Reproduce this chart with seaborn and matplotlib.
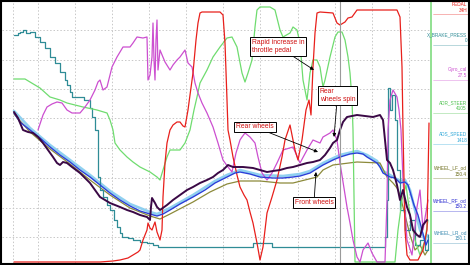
import numpy as np
import pandas as pd
import matplotlib
matplotlib.use("Agg")
import matplotlib.pyplot as plt
import seaborn as sns
from matplotlib.patches import Rectangle

sns.set_theme(style="white")
plt.rcParams['font.family'] = ['Liberation Sans', 'DejaVu Sans']

# ---- data (time in samples, signal level in scale units) ----
pedal_t = [14,60,100,113,120,128,133,138,140,143,147,148,150,152,155,157,160,162,163,165,167,170,173,177,180,183,185,188,190,193,196,198,200,202,210,220,223,225,227,228,230,233,237,240,244,247,250,253,257,260,263,267,272,277,282,285,290,295,298,302,306,309,311,313,315,317,320,333,337,340,345,348,352,357,373,397,400,402,403,405,407,410,418,423,427,428,429]
pedal_v = [1,1,1,2,3,5,8,11,13,23,33,40,35,33,41,31,23,33,66,100,120,133,138,141,141,137,136,153,168,190,223,240,250,251,251,251,248,220,163,133,123,106,88,76,68,63,51,40,20,3,16,50,66,83,106,123,138,113,103,123,153,163,148,196,230,250,251,250,240,238,241,245,246,253,253,253,246,196,133,33,8,3,3,13,33,83,140]

steer_t = [14,25,30,40,50,60,67,83,97,107,110,113,115,120,127,133,140,150,157,160,163,167,170,180,185,190,194,197,200,207,213,220,227,232,237,242,245,248,252,255,257,260,270,275,280,283,290,293,297,300,303,307,310,313,317,320,323,325,330,335,338,342,345,348,350,352,353,355,395,398,402,406,410,415,420,425,428]
steer_v = [184,184,181,175,166,163,160,156,153,150,143,133,120,113,106,101,96,91,86,83,93,106,113,113,120,133,153,166,180,193,206,216,225,226,216,190,181,190,203,236,253,256,256,253,233,226,230,236,233,220,183,163,190,203,203,196,176,183,206,226,231,231,223,206,190,163,133,1,1,33,63,78,48,23,8,23,43]

gyro_t = [38,43,47,52,57,62,67,72,80,85,90,95,98,100,103,107,112,117,123,130,133,137,143,147,148,150,152,153,154,155,156,157,158,160,165,170,173,177,180,185,188,192,195,198,202,207,213,218,223,228,232,236,240,242,245,250,255,258,262,267,272,277,283,293,300,307,313,320,323,330,333,337,340,347,350,353,357,360,363,368,372,377,385,387,388,390,393,397,399,401,403,407,412,417,420,423,428]
gyro_v = [133,148,156,159,161,160,153,150,150,156,163,173,181,183,173,176,196,206,216,216,220,226,225,226,183,188,206,240,203,183,223,243,193,213,201,193,198,203,206,213,200,196,180,170,160,150,136,120,103,96,91,110,123,126,130,126,120,106,90,83,90,100,113,116,100,113,123,120,126,130,133,123,100,56,40,23,6,1,13,20,10,1,1,63,133,163,173,166,153,133,83,23,8,56,73,33,63]

brake_t = [14,18,20,23,26,30,35,40,45,50,55,60,65,67,70,72,76,80,84,87,90,92,95,97,98,100,103,107,110,114,117,120,122,128,133,140,147,153,158,165,200,250,253,270,272,300,330,350,383,385,387,388,390,392,395,397,400,405,410,415,420,425,428]
brake_v = [228,230,231,233,230,231,226,221,215,206,200,191,183,178,171,166,166,166,163,163,155,146,133,133,86,73,66,58,53,43,36,30,26,25,23,21,20,18,16,16,16,16,20,20,16,16,16,16,16,26,63,175,153,168,143,93,53,33,43,18,23,13,28]

rear_t = [14,18,23,28,33,38,43,48,53,57,60,63,67,72,80,85,90,95,100,105,110,115,120,127,133,140,147,150,151,152,155,157,160,167,173,180,187,193,200,207,213,218,223,228,233,243,253,260,267,273,280,287,293,300,307,313,320,325,330,333,337,340,343,347,352,357,365,373,380,383,385,387,390,393,397,400,403,407,410,413,417,420,423,427]
rear_v = [151,145,133,131,130,126,120,113,106,100,98,101,100,96,90,85,80,73,66,63,60,58,56,53,51,48,46,43,56,65,60,56,53,58,63,68,73,76,80,83,86,90,93,98,96,96,95,93,91,92,93,95,96,98,100,101,103,108,115,120,123,133,141,146,147,148,147,146,148,143,123,103,100,93,78,63,73,56,48,33,28,26,38,43]

rf_t = [14,20,30,40,50,60,70,80,90,100,110,120,130,140,150,157,163,170,180,193,205,215,227,235,240,250,260,273,283,293,300,310,323,333,340,350,357,363,367,372,377,380,383,390,395,400,405,408,411,414,418,422,426,428]
rf_v = [150,141,133,125,116,108,101,93,86,78,70,63,57,52,49,47,49,53,59,66,73,80,86,90,91,89,86,85,85,86,87,90,98,103,106,109,110,109,106,103,100,96,90,86,85,80,81,78,68,58,48,33,18,23]

speed_t = [14,30,50,70,90,110,130,150,157,170,193,215,227,240,260,283,300,310,323,340,357,367,377,383,390,400,405,410,415,420,425,428]
speed_v = [152,135,118,103,88,72,59,51,49,55,68,82,88,93,88,87,89,92,100,108,112,108,102,92,88,82,83,73,53,33,23,28]

lf_t = [14,30,50,70,90,110,130,150,160,170,193,210,227,240,260,280,293,305,317,323,333,357,380,387,393,397,400,405,410,415,420,425,428]
lf_v = [149,131,114,99,83,68,55,47,44,49,61,71,79,82,82,80,80,83,86,93,98,101,100,86,80,75,68,48,28,13,18,8,13]

channel_names = ["PEDAL", "X_BRAKE_PRESS", "Gyro_cal", "ADR_STEER", "ADS_SPEED", "WHEEL_LF_od", "WHEEL_RF_od", "WHEEL_LR_od"]
channel_values = ["34H", "0", "27.5", "4105", "1418", "150.4", "150.2", "150.1"]

notes = ["Rapid increase in\nthrottle pedal", "Rear\nwheels spin", "Rear wheels", "Front wheels"]

# ---- figure ----
W, H = 470, 265
fig = plt.figure(figsize=(W/100, H/100), dpi=100)
ax = fig.add_axes([2/W, 2/H, 429/W, 262/H])
ax.set_facecolor("white")

c_red = "#e8201c"
c_green = "#6fdc6f"
c_mag = "#cc4fd0"
c_teal = "#2f8c96"
c_purple = "#3a0845"
c_blue = "#2a3fd8"
c_light = "#8fd0f0"
c_olive = "#8c8a3a"

def draw(t, v, color, lw, **kw):
    df = pd.DataFrame({"t": t, "v": v})
    sns.lineplot(data=df, x="t", y="v", ax=ax, color=color, lw=lw,
                 estimator=None, sort=False, **kw)

draw(speed_t, speed_v, c_light, 1.9)
draw(lf_t, lf_v, c_olive, 0.9)
draw(brake_t, brake_v, c_teal, 0.9, drawstyle="steps-post")
draw(steer_t, steer_v, c_green, 0.9)
draw(gyro_t, gyro_v, c_mag, 0.9)
draw(pedal_t, pedal_v, c_red, 0.9)
draw(rf_t, rf_v, c_blue, 1.0)
draw(rear_t, rear_v, c_purple, 1.4)

ax.set_xlim(2, 431)
ax.set_ylim(0, 262)
ax.set_xticks([13, 38, 75, 112, 149, 186, 223, 260, 298, 335, 372, 409])
ax.set_yticks([26, 55, 85, 115, 145, 174, 203, 233])
ax.grid(True, color="#c8c8c8", lw=0.7, ls=(0, (1.5, 2)))
ax.set_xticklabels([])
ax.set_yticklabels([])
ax.tick_params(length=0)
ax.set_xlabel("")
ax.set_ylabel("")
ax.axvline(340, color="#9a9a9a", lw=0.8)
for s in ["left", "top", "bottom"]:
    ax.spines[s].set_visible(False)
ax.spines["right"].set_color("#7fdc7f")
ax.spines["right"].set_linewidth(1.2)

box = dict(boxstyle="square,pad=0.25", fc="white", ec="black", lw=0.7)
arr = dict(arrowstyle="-|>", color="black", lw=0.6, mutation_scale=5, shrinkA=0, shrinkB=0)
tfs = 4.9
ax.annotate(notes[0], xy=(314, 193), xytext=(278, 216.5), ha="center", va="center",
            fontsize=tfs, color="#d01010", bbox=box, arrowprops=arr, multialignment="left")
ax.annotate(notes[1], xy=(334, 126), xytext=(337.5, 167.5), ha="center", va="center",
            fontsize=tfs, color="#d01010", bbox=box, arrowprops=arr, multialignment="left")
ax.annotate(notes[2], xy=(318, 111), xytext=(255, 136), ha="center", va="center",
            fontsize=tfs, color="#d01010", bbox=box, arrowprops=arr)
ax.annotate(notes[3], xy=(316, 91), xytext=(314, 60.5), ha="center", va="center",
            fontsize=tfs, color="#d01010", bbox=box, arrowprops=arr)

# outer frame
fig.patches.append(Rectangle((1/W, 1/H), 468/W, 263/H, transform=fig.transFigure,
                             fill=False, ec="black", lw=1.5, zorder=10))

label_colors = [c_red, c_teal, c_mag, "#4cc04c", "#30a8d8", "#707020", "#2a2ad0", "#3a8ab0"]
label_py = [4, 35, 70, 103, 134, 168, 201, 233]
for name, val, col, py in zip(channel_names, channel_values, label_colors, label_py):
    fig.text(467/W, 1 - py/H, name, ha="right", va="center", fontsize=3.4, color=col)
    fig.text(467/W, 1 - (py + 6)/H, val, ha="right", va="center", fontsize=3.4, color=col)
    fig.add_artist(plt.Line2D([433/W, 468/W], [1 - (py + 10)/H]*2, color=col, lw=0.4, alpha=0.6))

fig.savefig("out.png", dpi=100)
